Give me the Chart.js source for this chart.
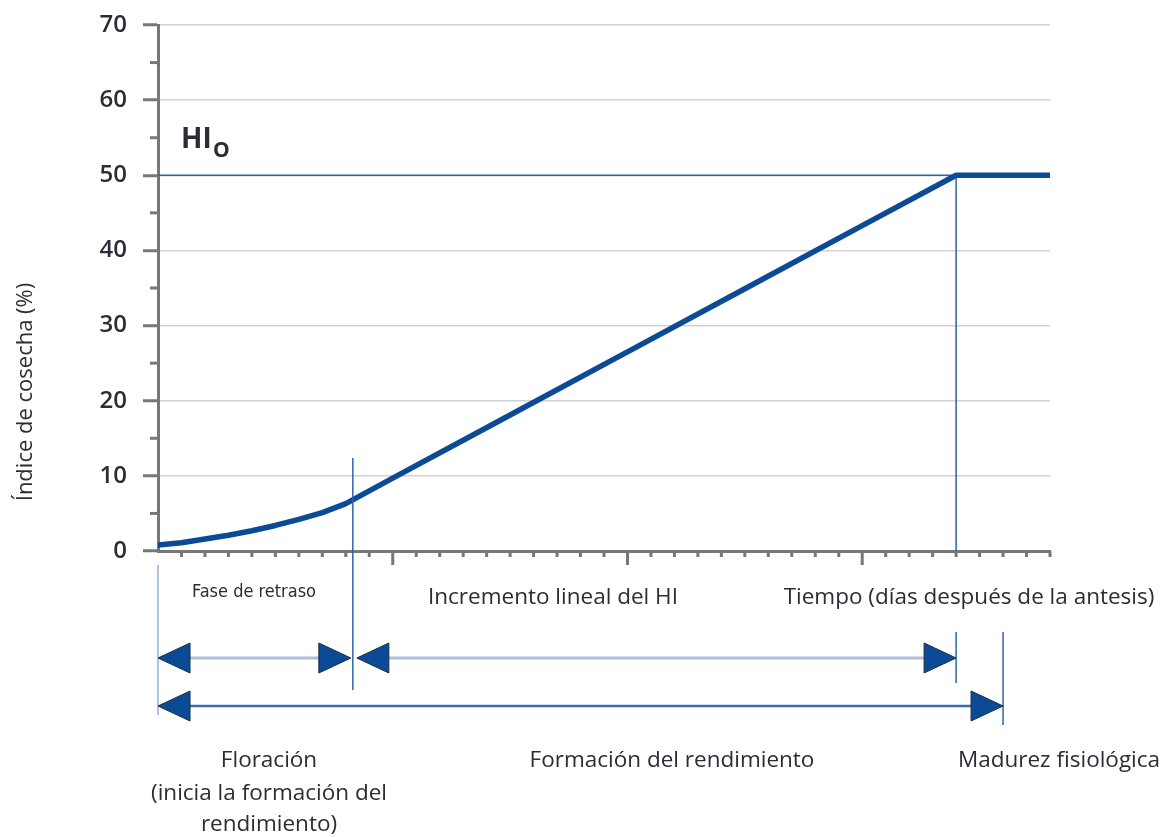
<!DOCTYPE html>
<html>
<head>
<meta charset="utf-8">
<script src="https://cdn.jsdelivr.net/npm/chart.js@4.4.1/dist/chart.umd.min.js"></script>
<style>
  html, body { margin: 0; padding: 0; background: #ffffff; }
  #wrap { width: 1167px; height: 837px; position: relative; }
</style>
</head>
<body>
<div id="wrap"><canvas id="hiChart" width="1167" height="837"></canvas></div>
<script>
// Datos
var timeDays = [0, 1, 2, 3, 4, 5, 6, 7, 8, 9, 10, 15, 20, 25, 30, 34, 38];
var harvestIndex = [0.8, 1.1, 1.6, 2.1, 2.7, 3.4, 4.2, 5.1, 6.3, 8.0, 9.7, 18.1, 26.5, 34.9, 43.3, 50, 50];
var hiMax = 50;            // HIo
var lagEnd = 8.3;          // fin de la fase de retraso
var hiMaxDay = 34;         // HI alcanza HIo
var maturityDay = 36;      // madurez fisiológica
var yTicks = [0, 10, 20, 30, 40, 50, 60, 70];

var fontFamily = '"Open Sans", "Noto Sans", sans-serif';
var textColor = '#2c2c36';
var axisColor = '#777777';
var lineBlue = '#0b4a94';
var thinBlue = '#2f63aa';

var curvePoints = timeDays.map(function (t, i) { return { x: t, y: harvestIndex[i] }; });

// Draw helpers
var arrowHead = function (ctx, tipX, y, dir) {
    var w = 32, h = 30;
    ctx.beginPath();
    ctx.moveTo(tipX, y);
    ctx.lineTo(tipX + dir * w, y - h / 2);
    ctx.lineTo(tipX + dir * w, y + h / 2);
    ctx.closePath();
    ctx.fillStyle = lineBlue;
    ctx.fill();
    ctx.strokeStyle = '#1c2a44';
    ctx.lineWidth = 1;
    ctx.stroke();
};

var vLine = function (ctx, x, y1, y2, color) {
    ctx.beginPath();
    ctx.moveTo(x, y1);
    ctx.lineTo(x, y2);
    ctx.strokeStyle = color;
    ctx.lineWidth = 1.5;
    ctx.stroke();
};

var extrasPlugin = {
    id: 'extras',
    afterDraw: function (chart) {
        var ctx = chart.ctx;
        var xs = chart.scales.x;
        var ys = chart.scales.y;
        var area = chart.chartArea;
        ctx.save();

        // y minor ticks
        ctx.strokeStyle = axisColor;
        ctx.lineWidth = 3;
        for (var v = 5; v < 70; v += 10) {
            var py = ys.getPixelForValue(v);
            ctx.beginPath();
            ctx.moveTo(area.left - 8, py);
            ctx.lineTo(area.left, py);
            ctx.stroke();
        }
        // x ticks
        for (var d = 1; d <= 38; d++) {
            var px = xs.getPixelForValue(d);
            var len = (d % 10 === 0) ? 14 : 6;
            ctx.beginPath();
            ctx.moveTo(px, area.bottom);
            ctx.lineTo(px, area.bottom + len);
            ctx.stroke();
        }

        var x0 = xs.getPixelForValue(0);
        var xLag = xs.getPixelForValue(lagEnd);
        var xMax = xs.getPixelForValue(hiMaxDay);
        var xMat = xs.getPixelForValue(maturityDay);

        // vertical markers
        vLine(ctx, x0, 565, 715, '#8fb0dc');
        vLine(ctx, xLag, 458, 690, thinBlue);
        vLine(ctx, xMax, 632, 683, thinBlue);
        vLine(ctx, xMat, 632, 725, thinBlue);

        // arrow rows
        var r1 = 658, r2 = 706;
        ctx.lineWidth = 3;
        ctx.strokeStyle = '#aebdd8';
        ctx.beginPath();
        ctx.moveTo(x0 + 20, r1); ctx.lineTo(xLag - 20, r1);
        ctx.moveTo(xLag + 20, r1); ctx.lineTo(xMax - 20, r1);
        ctx.stroke();
        ctx.lineWidth = 2.5;
        ctx.strokeStyle = '#3a6cb0';
        ctx.beginPath();
        ctx.moveTo(x0 + 20, r2); ctx.lineTo(xMat - 20, r2);
        ctx.stroke();
        arrowHead(ctx, x0, r1, 1);
        arrowHead(ctx, xLag - 2, r1, -1);
        arrowHead(ctx, xLag + 4, r1, 1);
        arrowHead(ctx, xMax, r1, -1);
        arrowHead(ctx, x0, r2, 1);
        arrowHead(ctx, xMat, r2, -1);

        // texts
        ctx.fillStyle = textColor;
        ctx.textBaseline = 'middle';
        ctx.textAlign = 'center';
        ctx.font = '18px "Liberation Sans Narrow", "DejaVu Sans Condensed", sans-serif';
        ctx.fillText('Fase de retraso', 254, 592);
        ctx.font = '22.5px ' + fontFamily;
        ctx.fillText('Incremento lineal del HI', 553, 598);
        ctx.fillText('Tiempo (días después de la antesis)', 969, 598);
        ctx.fillText('Floración', 269, 761);
        ctx.fillText('(inicia la formación del', 269, 794);
        ctx.fillText('rendimiento)', 269, 825);
        ctx.fillText('Formación del rendimiento', 672, 761);
        ctx.fillText('Madurez fisiológica', 1059, 761);

        // y title
        ctx.save();
        ctx.translate(26, 392);
        ctx.rotate(-Math.PI / 2);
        ctx.font = '22px ' + fontFamily;
        ctx.fillText('Índice de cosecha (%)', 0, 0);
        ctx.restore();

        // HIo label
        ctx.textAlign = 'left';
        ctx.textBaseline = 'alphabetic';
        ctx.font = 'bold 28px ' + fontFamily;
        ctx.fillText('HI', 181, 148);
        ctx.font = 'bold 21px ' + fontFamily;
        ctx.fillText('O', 213, 157);

        ctx.restore();
    }
};

var chart = new Chart(document.getElementById('hiChart').getContext('2d'), {
    type: 'line',
    data: {
        datasets: [{
            label: 'HI',
            data: curvePoints,
            borderColor: lineBlue,
            borderWidth: 5.5,
            pointRadius: 0,
            tension: 0,
            borderJoinStyle: 'round',
            borderCapStyle: 'round',
            order: 0
        }, {
            label: 'HIo',
            data: [{ x: 0, y: hiMax }, { x: hiMaxDay, y: hiMax }],
            borderColor: thinBlue,
            borderWidth: 1.5,
            pointRadius: 0,
            order: 1
        }, {
            label: 'HIo día',
            data: [{ x: hiMaxDay, y: hiMax }, { x: hiMaxDay, y: 0 }],
            borderColor: thinBlue,
            borderWidth: 1.5,
            pointRadius: 0,
            order: 1
        }]
    },
    options: {
        responsive: false,
        animation: false,
        layout: { padding: { top: 25, right: 117, bottom: 0, left: 0 } },
        plugins: {
            legend: { display: false },
            tooltip: { enabled: false },
            title: { display: false }
        },
        scales: {
            x: {
                type: 'linear',
                min: 0,
                max: 38,
                grid: { display: false },
                border: { display: true, color: axisColor, width: 3 },
                ticks: { display: false },
                afterFit: function (s) { s.height = 286; s.paddingLeft = 0; s.paddingRight = 0; }
            },
            y: {
                min: 0,
                max: 70,
                afterBuildTicks: function (s) { s.ticks = yTicks.map(function (v) { return { value: v }; }); },
                grid: {
                    color: '#d2d2d2',
                    lineWidth: 1.5,
                    tickLength: 15,
                    tickColor: axisColor,
                    tickWidth: 3
                },
                border: { display: true, color: axisColor, width: 3 },
                ticks: {
                    padding: 16,
                    color: textColor,
                    font: { family: fontFamily, size: 24, weight: '600' }
                },
                afterFit: function (s) { s.width = 158; s.paddingTop = 0; s.paddingBottom = 0; }
            }
        }
    },
    plugins: [extrasPlugin]
});
</script>
</body>
</html>
